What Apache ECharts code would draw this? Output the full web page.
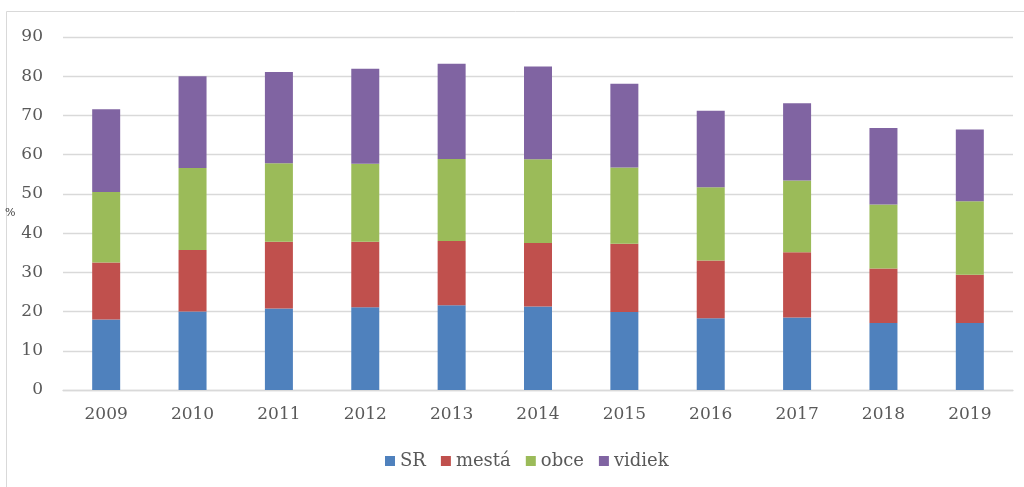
<!DOCTYPE html>
<html>
<head>
<meta charset="utf-8">
<script src="https://cdn.jsdelivr.net/npm/echarts@6/dist/echarts.min.js"></script>
<style>
    html, body { margin: 0; padding: 0; background: #fff; }
    #chart { width: 1024px; height: 487px; }
</style>
</head>
<body>
<div id="chart"></div>
<script type="text/javascript">
    // roky a podiely (%) jednotlivých skupín
    var years = ['2009', '2010', '2011', '2012', '2013', '2014', '2015', '2016', '2017', '2018', '2019'];
    var sr     = [18.0, 20.0, 20.8, 21.1, 21.6, 21.3, 19.9, 18.3, 18.5, 17.1, 17.1];
    var mesta  = [14.5, 15.7, 17.0, 16.7, 16.4, 16.2, 17.4, 14.7, 16.6, 13.9, 12.3];
    var obce   = [18.0, 20.9, 20.0, 19.9, 20.9, 21.3, 19.4, 18.7, 18.3, 16.3, 18.7];
    var vidiek = [21.1, 23.4, 23.3, 24.2, 24.3, 23.7, 21.4, 19.5, 19.7, 19.5, 18.3];

    var seriesNames = ['SR', 'mestá', 'obce', 'vidiek'];
    var seriesData = [sr, mesta, obce, vidiek];
    var colors = ['#4F81BD', '#C0504D', '#9BBB59', '#8064A2'];

    var font = '"DejaVu Serif", "Liberation Serif", serif';
    var myChart = echarts.init(document.getElementById('chart'));

    var series = [];
    for (var i = 0; i < seriesNames.length; i++) {
        series.push({
            name: seriesNames[i],
            type: 'bar',
            stack: 'total',
            barWidth: 28,
            data: seriesData[i],
            itemStyle: {color: colors[i]}
        });
    }

    var option = {
        animation: false,
        backgroundColor: '#fff',
        color: colors,
        graphic: [{
            type: 'rect',
            shape: {x: 6.5, y: 11.5, width: 1100, height: 600},
            style: {fill: 'none', stroke: '#d9d9d9', lineWidth: 1},
            silent: true
        }],
        grid: {left: 63, right: 11, top: 37, bottom: 97},
        legend: {
            bottom: 12,
            left: 380,
            itemWidth: 10,
            itemHeight: 10,
            itemGap: 15,
            icon: 'rect',
            textStyle: {fontFamily: font, fontSize: 18, color: '#595959'},
            data: seriesNames
        },
        xAxis: {
            type: 'category',
            data: years,
            axisLine: {lineStyle: {color: '#d9d9d9', width: 1.3}},
            axisTick: {show: false},
            axisLabel: {fontFamily: font, fontSize: 17, color: '#595959', margin: 16}
        },
        yAxis: {
            type: 'value',
            min: 0,
            max: 90,
            interval: 10,
            name: '%',
            nameLocation: 'middle',
            nameRotate: 0,
            nameGap: 46,
            nameTextStyle: {fontFamily: font, fontSize: 11, color: '#404040'},
            axisLine: {show: false},
            axisTick: {show: false},
            splitLine: {lineStyle: {color: '#d9d9d9', width: 1.3}},
            axisLabel: {fontFamily: font, fontSize: 17, color: '#595959', margin: 20}
        },
        series: series
    };
    myChart.setOption(option);
</script>
</body>
</html>
